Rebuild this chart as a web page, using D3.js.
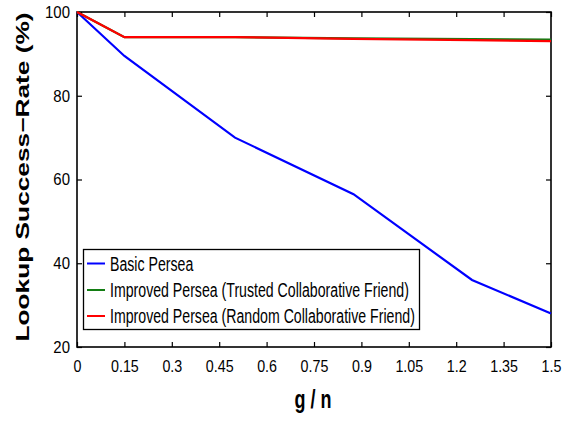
<!DOCTYPE html>
<html>
<head>
<meta charset="utf-8">
<script src="https://cdn.jsdelivr.net/npm/d3@7"></script>
<style>
  body { margin: 0; background: #fff; }
  text { font-family: "Liberation Sans", Arial, sans-serif; }
</style>
</head>
<body>
<svg width="568" height="422"></svg>
<script>
// g / n values sampled
var gn = [0, 0.15, 0.5, 0.875, 1.25, 1.5];
var basic = [100, 89.5, 70, 56.5, 36, 28];
var trusted = [100, 94, 94, 93.7, 93.5, 93.4];
var random = [100, 94, 94, 93.6, 93.3, 93.05];

var xTicks = [0, 0.15, 0.3, 0.45, 0.6, 0.75, 0.9, 1.05, 1.2, 1.35, 1.5];
var xTickLabels = ["0", "0.15", "0.3", "0.45", "0.6", "0.75", "0.9", "1.05", "1.2", "1.35", "1.5"];
var yTicks = [20, 40, 60, 80, 100];

var names = ["Basic Persea", "Improved Persea (Trusted Collaborative Friend)", "Improved Persea (Random Collaborative Friend)"];
var colors = ["#0000ff", "#137d13", "#ff0000"];

var svg = d3.select("svg");
var pLeft = 77, pRight = 551, pTop = 12, pBottom = 347;

var x = d3.scaleLinear().domain([0, 1.5]).range([pLeft, pRight]);
var y = d3.scaleLinear().domain([20, 100]).range([pBottom, pTop]);

function squeeze(sel, k) {
  sel.each(function() {
    var w = this.getComputedTextLength();
    d3.select(this).attr("textLength", w * k).attr("lengthAdjust", "spacingAndGlyphs");
  });
}

// frame + inward ticks on all four sides
var xb = svg.append("g").attr("transform", "translate(0," + pBottom + ")")
  .call(d3.axisBottom(x).tickValues(xTicks).tickSize(-5).tickPadding(12)
    .tickFormat(function(d, i) { return xTickLabels[i]; }));
var xt = svg.append("g").attr("transform", "translate(0," + pTop + ")")
  .call(d3.axisTop(x).tickValues(xTicks).tickSize(-5).tickFormat(""));
var yl = svg.append("g").attr("transform", "translate(" + pLeft + ",0)")
  .call(d3.axisLeft(y).tickValues(yTicks).tickSize(-5).tickPadding(7));
var yr = svg.append("g").attr("transform", "translate(" + pRight + ",0)")
  .call(d3.axisRight(y).tickValues(yTicks).tickSize(-5).tickFormat(""));

[xb, xt, yl, yr].forEach(function(g) {
  g.select(".domain").remove();
  g.selectAll(".tick line").attr("stroke", "#000").attr("stroke-width", 1.2);
  g.selectAll(".tick text").attr("fill", "#000").style("font-size", "17px");
});
xb.selectAll(".tick text").attr("dy", "0.75em");
squeeze(xb.selectAll(".tick text"), 0.84);
squeeze(yl.selectAll(".tick text"), 0.88);

svg.append("rect")
  .attr("x", pLeft).attr("y", pTop)
  .attr("width", pRight - pLeft).attr("height", pBottom - pTop)
  .attr("fill", "none").attr("stroke", "#000").attr("stroke-width", 1.6);

// lines
var line = d3.line()
  .x(function(d, i) { return x(gn[i]); })
  .y(function(d) { return y(d); });

[basic, trusted, random].forEach(function(s, k) {
  svg.append("path")
    .datum(s)
    .attr("d", line)
    .attr("fill", "none")
    .attr("stroke", colors[k])
    .attr("stroke-width", 2.2);
});

// legend
var lg = svg.append("g");
lg.append("rect")
  .attr("x", 83.5).attr("y", 249.5)
  .attr("width", 336).attr("height", 80)
  .attr("fill", "#fff").attr("stroke", "#000").attr("stroke-width", 1.3);

var rows = [263.5, 290, 316];
names.forEach(function(n, k) {
  lg.append("line")
    .attr("x1", 87).attr("x2", 105)
    .attr("y1", rows[k]).attr("y2", rows[k])
    .attr("stroke", colors[k]).attr("stroke-width", 2);
  var t = lg.append("text")
    .attr("x", 110).attr("y", rows[k] + 7)
    .style("font-size", "19.5px")
    .text(n);
  squeeze(t, 0.725);
});

// axis titles
var xlab = svg.append("text")
  .attr("x", 313).attr("y", 408)
  .attr("text-anchor", "middle")
  .style("font-size", "25px").style("font-weight", "bold")
  .text("g / n");
squeeze(xlab, 0.72);

svg.append("text")
  .attr("transform", "translate(29,177) rotate(-90)")
  .attr("text-anchor", "middle")
  .style("font-size", "18px").style("font-weight", "bold")
  .attr("textLength", 329).attr("lengthAdjust", "spacingAndGlyphs")
  .text("Lookup Success\u2212Rate (%)");
</script>
</body>
</html>
